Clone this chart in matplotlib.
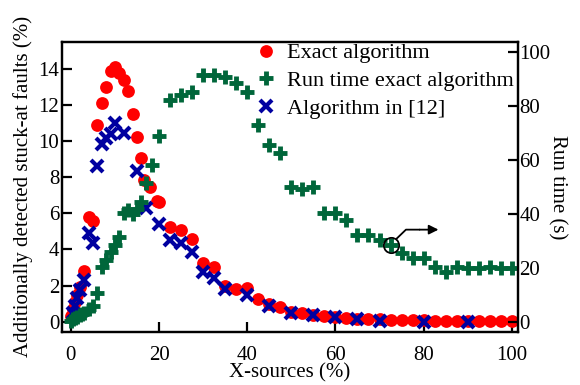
import matplotlib
matplotlib.use("Agg")
import matplotlib.pyplot as plt

plt.rcParams['font.family'] = ['Liberation Serif', 'DejaVu Serif']

# Exact algorithm (left axis, %)
exact_x = [0, 0.5, 1, 1.5, 2, 3, 4, 5, 6, 7, 8, 9, 10, 11, 12, 13, 14, 15, 16, 16.5, 18, 19.5, 20,
           22.5, 25, 27.5, 30, 32.5, 35, 37.5, 40, 42.5, 45, 47.5, 50, 52.5, 55, 57.5, 60, 62.5,
           65, 67.5, 70, 72.5, 75, 77.5, 80, 82.5, 85, 87.5, 90, 92.5, 95, 97.5, 100]
exact_y = [0.3, 0.7, 1.1, 1.5, 1.9, 2.8, 5.8, 5.6, 10.9, 12.1, 13.0, 13.9, 14.1, 13.8, 13.4, 12.8,
           11.5, 10.25, 9.05, 7.85, 7.45, 6.7, 6.65, 5.25, 5.05, 4.6, 3.25, 3.0, 1.95, 1.8, 1.85,
           1.25, 1.0, 0.8, 0.55, 0.47, 0.37, 0.32, 0.25, 0.2, 0.16, 0.13, 0.12, 0.1, 0.09, 0.08,
           0.07, 0.06, 0.06, 0.05, 0.05, 0.04, 0.04, 0.04, 0.03]

# Algorithm in [12] (left axis, %)
alg_x = [0.5, 1, 1.5, 2, 3, 4, 5, 6, 7, 8, 9, 10, 12, 15, 17, 20, 22.5, 25, 27.5, 30, 32.5, 35,
         40, 45, 50, 55, 60, 65, 70, 80, 90]
alg_y = [0.45, 0.85, 1.3, 1.75, 2.3, 4.9, 4.35, 8.6, 9.85, 10.2, 10.4, 11.0, 10.45, 8.35, 6.3,
         5.4, 4.55, 4.35, 3.85, 2.75, 2.4, 1.8, 1.5, 0.85, 0.5, 0.37, 0.24, 0.12, 0.04, 0.0, 0.0]

# Run time exact algorithm (right axis, s)
run_x = [0, 0.5, 1, 1.5, 2, 2.5, 3, 4, 5, 6, 7, 8, 9, 10, 11, 12, 13, 14, 15, 16, 17, 18.5, 20,
         22.5, 25, 27.5, 30, 32.5, 35, 37.5, 40, 42.5, 45, 47.5, 50, 52.5, 55, 57.5, 60, 62.5,
         65, 67.5, 70, 72.5, 75, 77.5, 80, 82.5, 85, 87.5, 90, 92.5, 95, 97.5, 100]
run_y = [0.5, 1, 1.5, 2, 2.5, 3, 3.5, 5, 6, 10.7, 20.5, 23, 26, 28.6, 31.5, 40.5, 41.5, 40, 42,
         44.6, 51.4, 58, 69, 82.2, 84, 85.2, 91.4, 91.4, 90.6, 88.3, 85, 73, 65.5, 62.5, 50,
         49.2, 50.1, 40.5, 40.3, 37.8, 32.3, 32.3, 30.4, 28.6, 25.5, 23.6, 23.6, 20.5, 18.7,
         20.5, 20, 20, 20.5, 20, 20]

x_ticks = [0, 20, 40, 60, 80, 100]
left_ticks = [0, 2, 4, 6, 8, 10, 12, 14]
right_ticks = [0, 20, 40, 60, 80, 100]

RED = '#ff0000'
GREEN = '#00663a'
BLUE = '#0000a0'

fig = plt.figure(figsize=(5.8, 3.85), dpi=100)
ax1 = fig.add_axes([0.107, 0.138, 0.786, 0.753])
ax2 = ax1.twinx()

h1, = ax1.plot(exact_x, exact_y, 'o', color=RED, markersize=9.2, markeredgewidth=0, zorder=2)
h3, = ax1.plot(alg_x, alg_y, 'x', color=BLUE, markersize=8.5, markeredgewidth=3, zorder=3)
h2, = ax2.plot(run_x, run_y, '+', color=GREEN, markersize=10.5, markeredgewidth=3.5, zorder=2)

# annotation: circle and arrow pointing to right axis
ax2.plot([72.5], [28.6], 'o', markersize=11, markerfacecolor='none', markeredgecolor='black',
         markeredgewidth=1.3, zorder=5)
ax2.plot([73.9, 76.0, 79.0], [30.9, 34.2, 34.2], color='black', lw=1.3, zorder=5)
ax2.annotate('', xy=(84.0, 34.2), xytext=(78.5, 34.2),
             arrowprops=dict(arrowstyle='-|>', color='black', lw=1.3, mutation_scale=14))

ax1.set_xlim(-2, 101.4)
ax1.set_ylim(-0.57, 15.5)
ax2.set_ylim(-3.6, 103.6)

ax1.set_xticks(x_ticks)
ax1.set_yticks(left_ticks)
ax2.set_yticks(right_ticks)

for ax in (ax1, ax2):
    for s in ax.spines.values():
        s.set_linewidth(1.6)
ax1.tick_params(axis='both', direction='in', length=7, width=1.6, labelsize=15, top=False, right=False)
ax2.tick_params(axis='y', direction='in', length=7, width=1.6, labelsize=15, pad=1)
ax1.tick_params(axis='x', pad=10)
ax1.tick_params(axis='y', pad=2)

ax1.set_xlabel('X-sources (%)', fontsize=15, labelpad=-1)
ax1.set_ylabel('Additionally detected stuck-at faults (%)', fontsize=15, labelpad=4)
ax2.set_ylabel('Run time (s)', fontsize=15, rotation=-90, labelpad=12)

leg = ax2.legend([h1, h2, h3], ['Exact algorithm', 'Run time exact algorithm', 'Algorithm in [12]'],
                 loc='upper right', frameon=False, fontsize=16, handletextpad=0.45,
                 borderaxespad=0.1, labelspacing=0.32, handlelength=1.0,
                 bbox_to_anchor=(1.015, 1.035))

fig.savefig('out.png', dpi=100)
